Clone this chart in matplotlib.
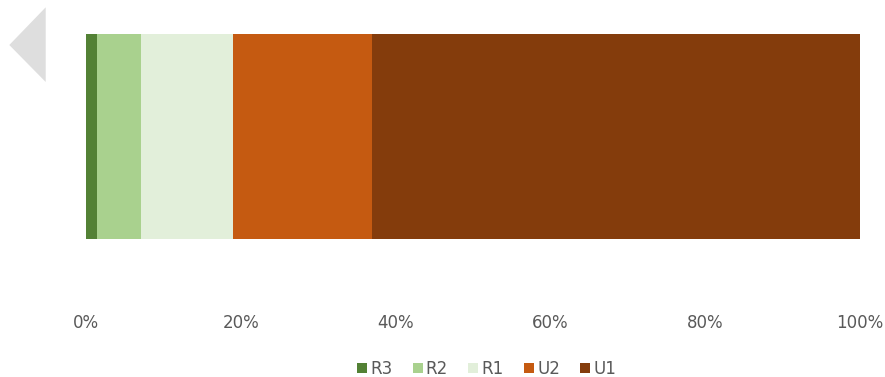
import matplotlib
matplotlib.use("Agg")
import matplotlib.pyplot as plt
from matplotlib.patches import Polygon, Patch

categories = ["R3", "R2", "R1", "U2", "U1"]
values = [1.4, 5.7, 11.9, 18.0, 63.0]
colors = ["#538135", "#a9d18e", "#e2efda", "#c55a11", "#843c0c"]
tick_vals = [0, 20, 40, 60, 80, 100]
tick_labels = ["0%", "20%", "40%", "60%", "80%", "100%"]

W, H = 885, 377
plt.rcParams['font.family'] = ['DejaVu Sans']
fig = plt.figure(figsize=(W/100, H/100), dpi=100)

ax = fig.add_axes([86/W, 1 - 239/H, (860-86)/W, (239-34)/H])
left = 0
for c, v, col in zip(categories, values, colors):
    ax.barh(0, v, left=left, height=1.0, color=col, label=c, edgecolor='none')
    left += v
ax.set_xlim(0, 100)
ax.set_ylim(-0.5, 0.5)
ax.set_yticks([])
ax.set_xticks(tick_vals)
ax.set_xticklabels(tick_labels, fontsize=12, color="#595959")
ax.tick_params(axis='x', length=0, pad=54)
for s in ax.spines.values():
    s.set_visible(False)

# grey triangle at top-left
tri = Polygon([[9.3/W, 1-45/H], [45.7/W, 1-7.3/H], [45.7/W, 1-82/H]],
              closed=True, transform=fig.transFigure, facecolor="#dedede", edgecolor='none')
fig.patches.append(tri)

handles = [Patch(facecolor=col, edgecolor='none') for col in colors]
fig.legend(handles, categories, loc='center', bbox_to_anchor=(486.5/W, 1-369/H),
           ncol=5, frameon=False, fontsize=12, handlelength=0.6, handleheight=0.6,
           handletextpad=0.2, columnspacing=1.2, labelcolor="#595959",
           borderpad=0, borderaxespad=0)

fig.savefig("out.png", dpi=100)
